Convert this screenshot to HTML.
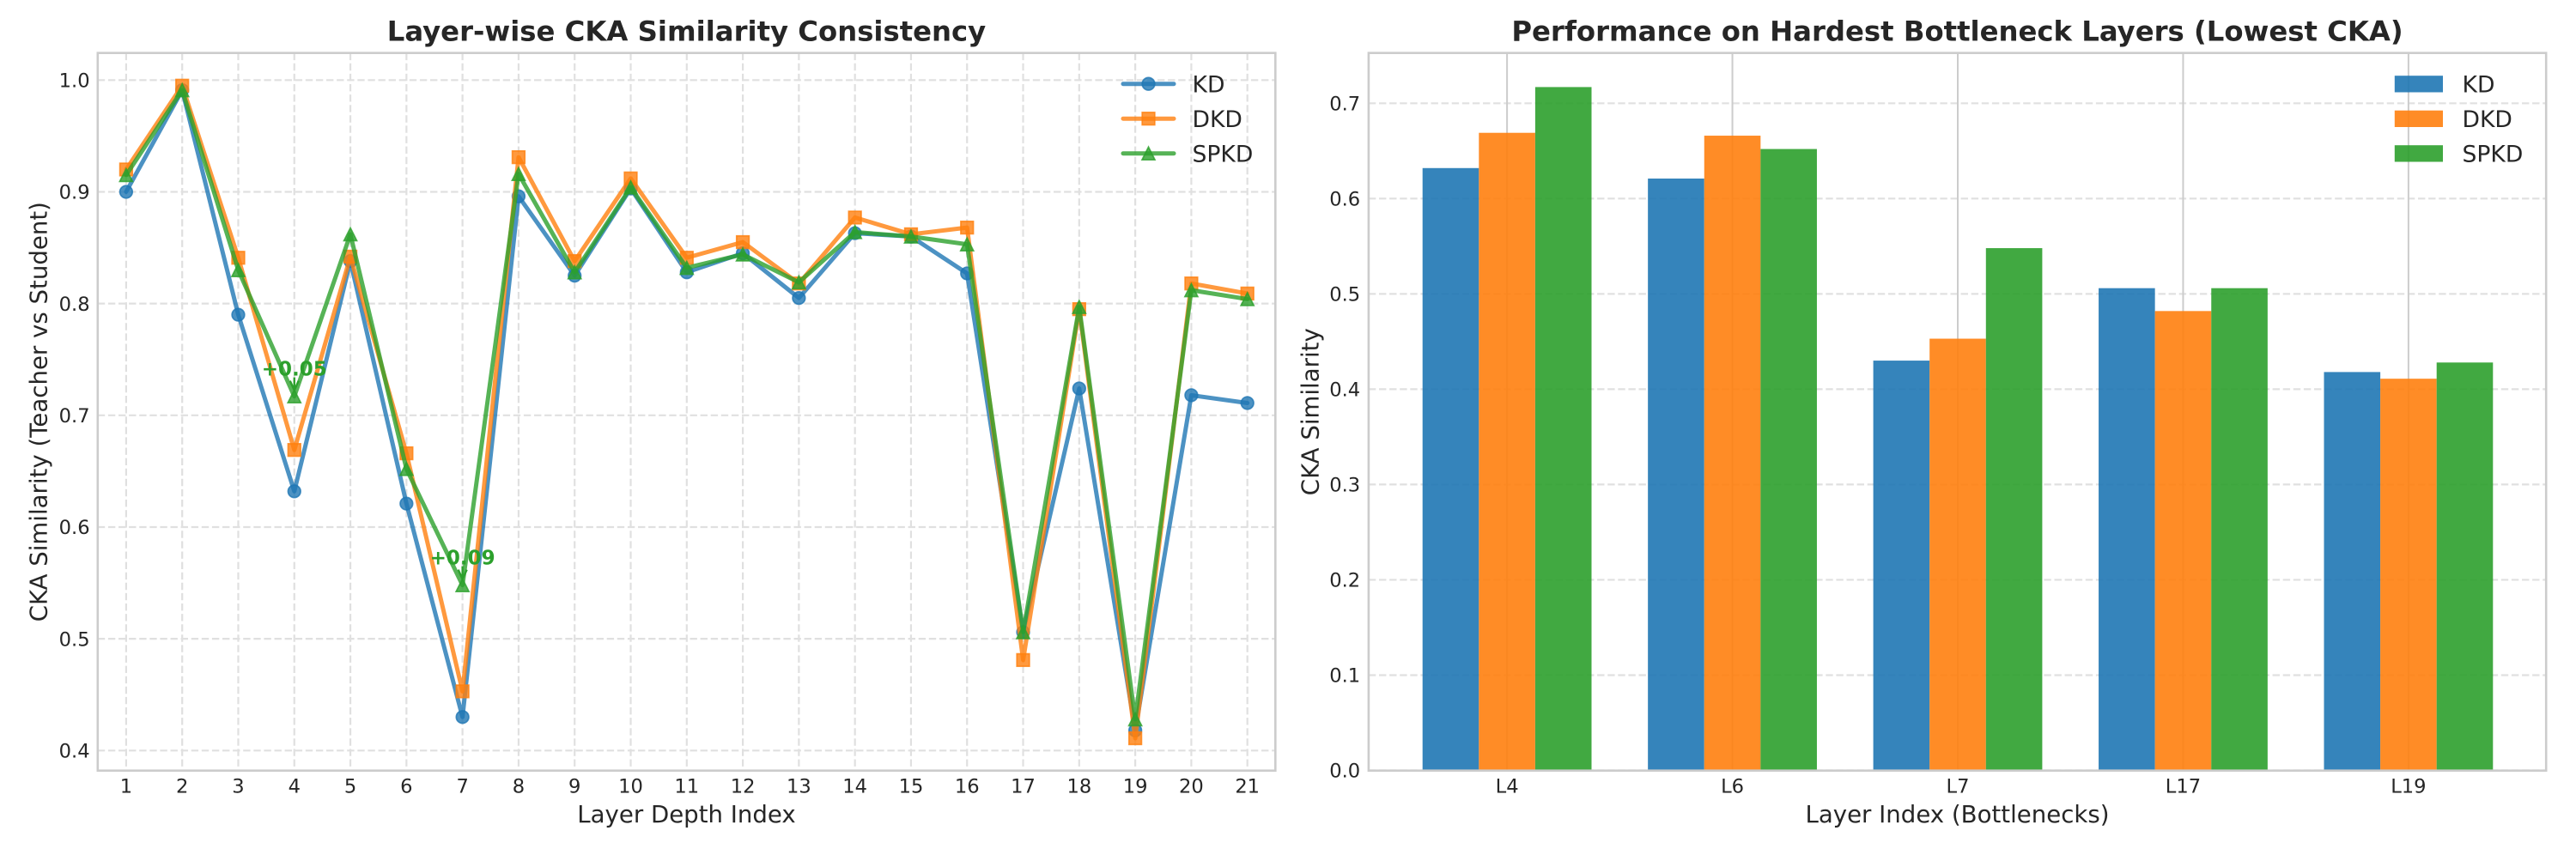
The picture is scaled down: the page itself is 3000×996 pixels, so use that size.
<!DOCTYPE html>
<html lang="en">
<head>
<meta charset="utf-8">
<title>CKA Similarity Charts</title>
<style>
html,body{margin:0;padding:0;background:#fff;width:3000px;height:996px;overflow:hidden}
svg{display:block}
text{font-family:"DejaVu Sans","Liberation Sans",sans-serif;fill:#262626}
</style>
</head>
<body>
<svg id="fig" xmlns="http://www.w3.org/2000/svg" width="3000" height="996" viewBox="0 0 3000 996">
  <g id="left-grid"></g>
  <g id="right-grid"></g>
  <g id="bars"></g>
  <g id="lines"></g>
  <g id="annots"></g>
  <g id="frames">
    <rect x="113.8" y="61.7" width="1371.5" height="836" fill="none" stroke="#cccccc" stroke-width="2.6"/>
    <rect x="1593.9" y="61.7" width="1371.3" height="836" fill="none" stroke="#cccccc" stroke-width="2.6"/>
  </g>
  <g id="ticks"></g>
  <g id="legends"></g>
  <text x="799.5" y="47.5" text-anchor="middle" font-size="32.3" font-weight="700">Layer-wise CKA Similarity Consistency</text>
  <text x="2279.5" y="47.5" text-anchor="middle" font-size="32.3" font-weight="700">Performance on Hardest Bottleneck Layers (Lowest CKA)</text>
  <text x="799.5" y="958" text-anchor="middle" font-size="27.6">Layer Depth Index</text>
  <text x="2279.5" y="958" text-anchor="middle" font-size="27.6">Layer Index (Bottlenecks)</text>
  <text transform="translate(54.6 479.7) rotate(-90)" text-anchor="middle" font-size="27.6">CKA Similarity (Teacher vs Student)</text>
  <text transform="translate(1535.7 479.7) rotate(-90)" text-anchor="middle" font-size="27.6">CKA Similarity</text>
</svg>
<script>
// ---- data ----
const layers = [1,2,3,4,5,6,7,8,9,10,11,12,13,14,15,16,17,18,19,20,21];
const kdValues   = [0.900,0.991,0.790,0.632,0.838,0.621,0.430,0.896,0.825,0.903,0.828,0.845,0.805,0.863,0.860,0.827,0.506,0.724,0.418,0.718,0.711];
const dkdValues  = [0.920,0.995,0.841,0.669,0.842,0.666,0.453,0.931,0.838,0.912,0.841,0.855,0.818,0.877,0.862,0.868,0.481,0.795,0.411,0.818,0.809];
const spkdValues = [0.915,0.991,0.830,0.717,0.862,0.652,0.548,0.916,0.828,0.904,0.832,0.844,0.819,0.864,0.860,0.853,0.506,0.797,0.428,0.812,0.804];
const lineYTicks = [0.4,0.5,0.6,0.7,0.8,0.9,1.0];
const barCategories = ["L4","L6","L7","L17","L19"];
const barKD   = [0.632,0.621,0.430,0.506,0.418];
const barDKD  = [0.669,0.666,0.453,0.482,0.411];
const barSPKD = [0.717,0.652,0.548,0.506,0.428];
const barYTicks = [0.0,0.1,0.2,0.3,0.4,0.5,0.6,0.7];
const seriesNames = ["KD","DKD","SPKD"];
const annotationLayers = [4,7];
const annotationLabels = ["+0.05","+0.09"];

// ---- axis functions ----
const NS = "http://www.w3.org/2000/svg";
const colors = ["#1f77b4","#ff7f0e","#2ca02c"];
const plotTop = 61.7, plotBottom = 897.7;
const lx = v => 146.9 + (v - 1) * 65.29;
const ly = v => 93.3 + (1 - v) * 1301.7;
const bx = i => 1755.1 + i * 262.45;
const by = v => 897.5 - v * 1110.3;
const barWidth = 65.6;

function mk(tag, attrs, parent, txt){
  const el = document.createElementNS(NS, tag);
  for (const k in attrs) el.setAttribute(k, attrs[k]);
  if (txt !== undefined) el.textContent = txt;
  parent.appendChild(el);
  return el;
}
const $ = id => document.getElementById(id);
const gridStyle = {stroke:"#e0e0e0","stroke-width":2.2,"stroke-dasharray":"8.4 3.7",fill:"none"};

// ---- line chart grid and ticks ----
lineYTicks.forEach(v => {
  const g = mk("line", Object.assign({x1:113.8,x2:1485.3,y1:ly(v),y2:ly(v)}, gridStyle), $("left-grid"));
  
  
  const t = mk("text", {x:104.6,y:ly(v)+8.2,"text-anchor":"end","font-size":22.6}, $("ticks"), v.toFixed(1));
  
  
});
layers.forEach(l => {
  const g = mk("line", Object.assign({x1:lx(l),x2:lx(l),y1:plotTop,y2:plotBottom}, gridStyle), $("left-grid"));
  
  
  const t = mk("text", {x:lx(l),y:923.5,"text-anchor":"middle","font-size":22.6}, $("ticks"), String(l));
  
  
});

// ---- bar chart grid and ticks ----
barYTicks.forEach(v => {
  const g = mk("line", Object.assign({x1:1593.9,x2:2965.2,y1:by(v),y2:by(v)}, gridStyle), $("right-grid"));
  
  
  const t = mk("text", {x:1584.2,y:by(v)+8.2,"text-anchor":"end","font-size":22.6}, $("ticks"), v.toFixed(1));
  
  
});
barCategories.forEach((c,i) => {
  const g = mk("line", {x1:bx(i),x2:bx(i),y1:plotTop,y2:plotBottom,stroke:"#cccccc","stroke-width":2}, $("right-grid"));
  
  
  const t = mk("text", {x:bx(i),y:923.5,"text-anchor":"middle","font-size":22.6}, $("ticks"), c);
  
  
});

// ---- markers ----
function marker(kind, x, y, color, parent){
  const st = {fill:color,"fill-opacity":0.8,stroke:color,"stroke-opacity":0.8,"stroke-width":1.7};
  if (kind === 0) return mk("circle", Object.assign({cx:x,cy:y,r:7.3}, st), parent);
  if (kind === 1) return mk("rect", Object.assign({x:x-7.3,y:y-7.3,width:14.6,height:14.6}, st), parent);
  return mk("polygon", Object.assign({points:`${x},${y-7.5} ${x-7.5},${y+7.5} ${x+7.5},${y+7.5}`,"stroke-linejoin":"miter"}, st), parent);
}

// ---- line series ----
const lineSeries = [kdValues, dkdValues, spkdValues];
lineSeries.forEach((vals, s) => {
  const g = mk("g", {}, $("lines"));
  
  
  const pl = mk("polyline", {
    points: vals.map((v,i) => lx(layers[i]) + "," + ly(v)).join(" "),
    fill:"none", stroke:colors[s], "stroke-opacity":0.8, "stroke-width":5,
    "stroke-linejoin":"round", "stroke-linecap":"round"
  }, g);
  
  
  vals.forEach((v,i) => {
    const m = marker(s, lx(layers[i]), ly(v), colors[s], g);
    
    
  });
});

// ---- annotations ----
annotationLayers.forEach((l,k) => {
  const x = lx(l), y = ly(spkdValues[layers.indexOf(l)]);
  const arrow = mk("path", {d:`M${x} ${y-22}L${x} ${y-7}M${x-5} ${y-18}L${x} ${y-7}L${x+5} ${y-18}`,fill:"none",stroke:"#2ca02c","stroke-width":2.4}, $("annots"));
  
  
  const t = mk("text", {x:x,y:y-24,"text-anchor":"middle","font-size":23,"font-weight":700,style:"fill:#2ca02c"}, $("annots"), annotationLabels[k]);
  
  
});

// ---- bars ----
const barSeries = [barKD, barDKD, barSPKD];
barSeries.forEach((vals, s) => {
  vals.forEach((v,i) => {
    const r = mk("rect", {x:bx(i)+(s-1.5)*barWidth,y:by(v),width:barWidth,height:by(0)-by(v),fill:colors[s],"fill-opacity":0.9}, $("bars"));
    
    
  });
});

// ---- legends ----
seriesNames.forEach((n,s) => {
  const y = 97.7 + s * 40.5;
  const a = mk("line", {x1:1308,x2:1367,y1:y,y2:y,stroke:colors[s],"stroke-opacity":0.8,"stroke-width":5,"stroke-linecap":"round"}, $("legends"));
  
  
  const m = marker(s, 1337.5, y, colors[s], $("legends"));
  
  
  const t = mk("text", {x:1388.5,y:y+9.6,"font-size":26.6}, $("legends"), n);
  
  
  const p = mk("rect", {x:2788.8,y:y-9.5,width:56.2,height:19.3,fill:colors[s],"fill-opacity":0.9}, $("legends"));
  
  
  const t2 = mk("text", {x:2867.5,y:y+9.6,"font-size":26.6}, $("legends"), n);
  
  
});
</script>
</body>
</html>
